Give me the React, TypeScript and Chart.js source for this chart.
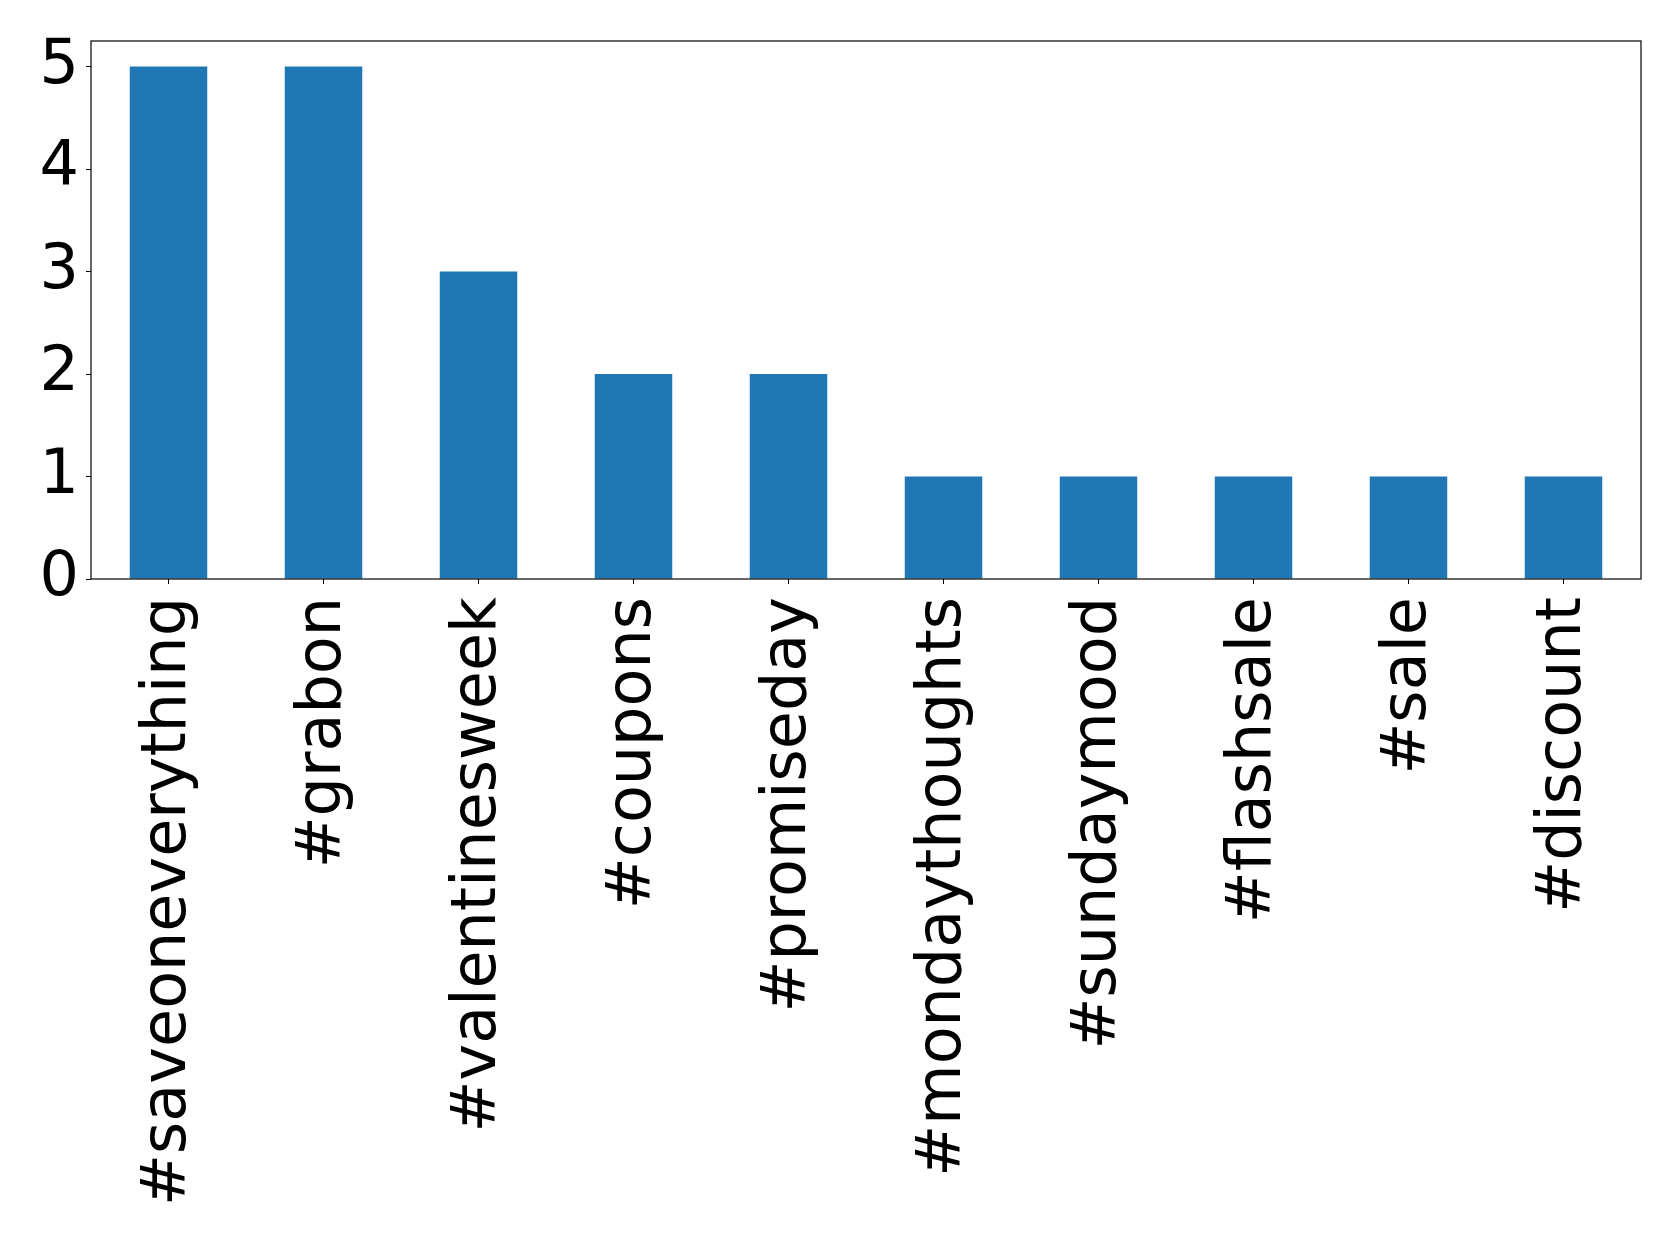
import React, { useEffect, useRef } from "react";
import { Chart, registerables } from "chart.js";

Chart.register(...registerables);

const categories = [
  "#saveoneverything",
  "#grabon",
  "#valentinesweek",
  "#coupons",
  "#promiseday",
  "#mondaythoughts",
  "#sundaymood",
  "#flashsale",
  "#sale",
  "#discount",
];
const counts = [5, 5, 3, 2, 2, 1, 1, 1, 1, 1];
const yTicks = [0, 1, 2, 3, 4, 5];
const yMax = 5.25;

const W = 1679;
const H = 1242;
const LEFT = 91;
const RIGHT = 1641;
const TOP = 41;
const BOTTOM = 579;

const framePlugin = {
  id: "frame",
  afterDraw(chart: any) {
    const { ctx, chartArea } = chart;
    ctx.save();
    ctx.strokeStyle = "#000";
    ctx.lineWidth = 1.2;
    ctx.strokeRect(
      chartArea.left,
      chartArea.top,
      chartArea.right - chartArea.left,
      chartArea.bottom - chartArea.top
    );
    ctx.restore();
  },
};

export default function App() {
  const ref = useRef<HTMLCanvasElement | null>(null);

  useEffect(() => {
    document.body.style.margin = "0";
    const canvas = ref.current;
    if (!canvas) return;
    const font = { family: "'DejaVu Sans', sans-serif", size: 62 };
    const chart = new Chart(canvas, {
      type: "bar",
      data: {
        labels: categories,
        datasets: [
          {
            data: counts,
            backgroundColor: "#1f77b4",
            borderWidth: 0,
            barPercentage: 0.5,
            categoryPercentage: 1.0,
          },
        ],
      },
      options: {
        animation: false,
        responsive: false,
        devicePixelRatio: 1,
        layout: { padding: { left: 0, top: TOP, right: W - RIGHT, bottom: 0 } },
        plugins: { legend: { display: false }, tooltip: { enabled: false } },
        scales: {
          x: {
            offset: true,
            grid: {
              display: true,
              offset: false,
              drawOnChartArea: false,
              drawTicks: true,
              tickLength: 5,
              color: "#000",
              lineWidth: 1,
            },
            border: { display: false },
            ticks: {
              color: "#000",
              font,
              minRotation: 90,
              maxRotation: 90,
              autoSkip: false,
              padding: 13,
            },
            afterFit(scale: any) {
              scale.height = H - BOTTOM;
              scale.paddingLeft = 0;
              scale.paddingRight = 0;
            },
          },
          y: {
            min: 0,
            max: yMax,
            grid: {
              display: true,
              drawOnChartArea: false,
              drawTicks: true,
              tickLength: 5,
              color: "#000",
              lineWidth: 1,
            },
            border: { display: false },
            ticks: {
              color: "#000",
              font,
              padding: 7,
            },
            afterBuildTicks(scale: any) {
              scale.ticks = yTicks.map((v) => ({ value: v }));
            },
            afterFit(scale: any) {
              scale.width = LEFT;
              scale.paddingTop = 0;
              scale.paddingBottom = 0;
            },
          },
        },
      },
      plugins: [framePlugin],
    });
    return () => chart.destroy();
  }, []);

  return (
    <div style={{ width: W, height: H, background: "#fff" }}>
      <canvas ref={ref} width={W} height={H} style={{ display: "block" }} />
    </div>
  );
}
